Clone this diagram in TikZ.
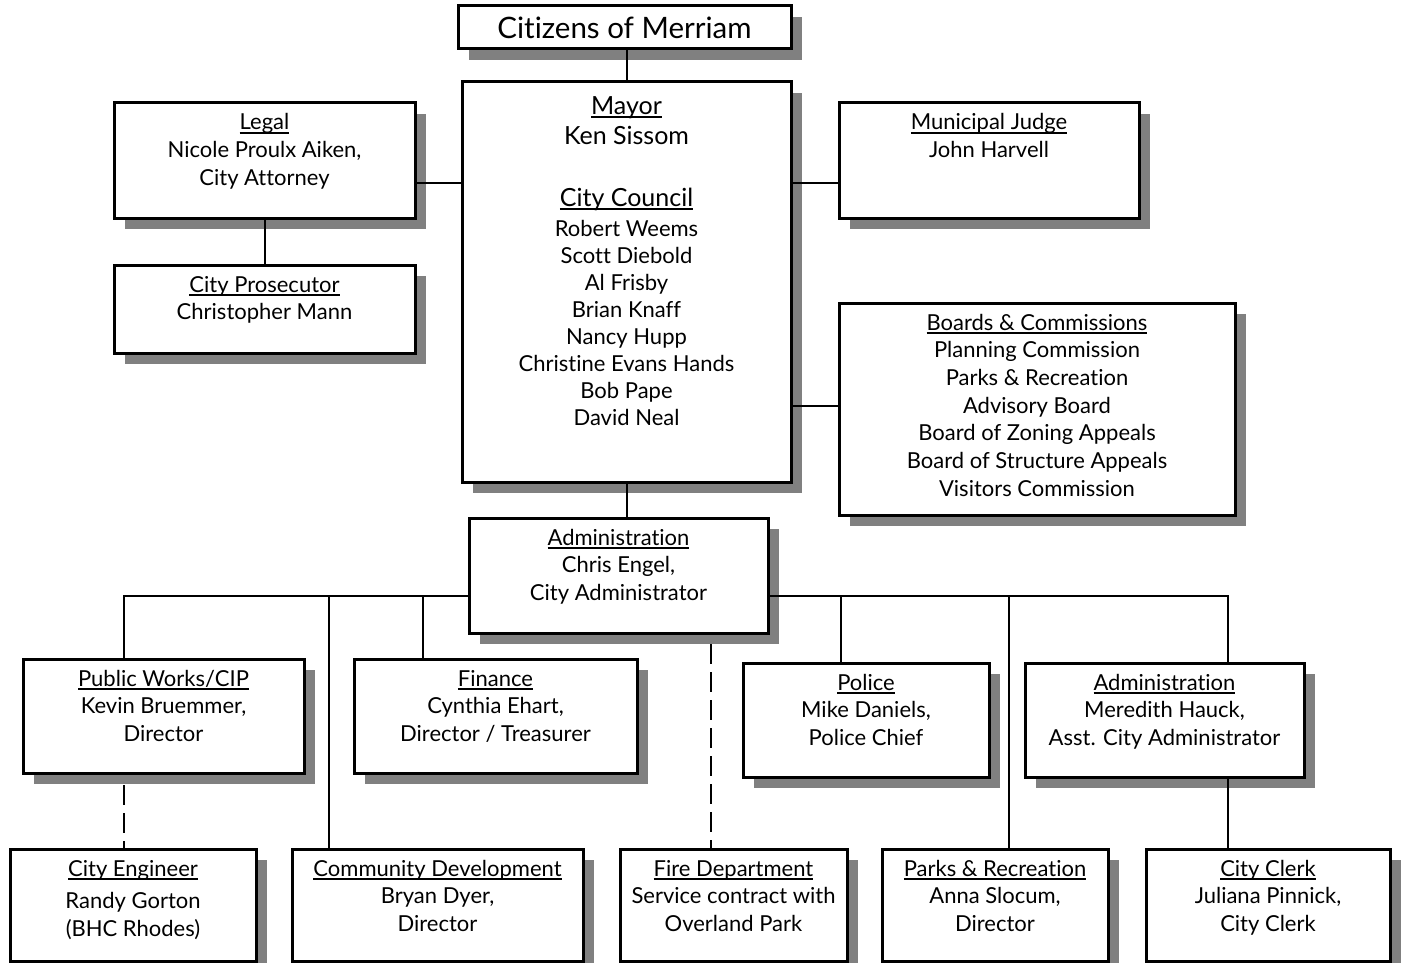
\documentclass[tikz,border=0pt]{standalone}
\usepackage{fontspec}
\setmainfont{Lato}[Ligatures=NoCommon]
\usetikzlibrary{positioning,shadows}
\definecolor{shade}{HTML}{808080}
\newsavebox{\headbox}
\newcommand{\orghead}[1]{\leavevmode\sbox{\headbox}{#1}\rlap{\rule[-3.5pt]{\wd\headbox}{1.8pt}}\usebox{\headbox}}
\newcommand{\orgcell}[3]{\parbox[c][#2][t]{#1}{\centering\rule{0pt}{27pt}#3}}
\tikzset{
  office/.style={draw, line width=3pt, fill=white, inner sep=0pt, font=\fontsize{22}{27.7}\selectfont,
    drop shadow={shadow xshift=11pt, shadow yshift=-11pt, fill=shade, opacity=1}},
  link/.style={line width=2pt},
  lease/.style={line width=2pt, dash pattern=on 20pt off 8pt}
}

\begin{document}
\begin{tikzpicture}[x=1pt, y=-1pt]
\useasboundingbox (0,0) rectangle (1402,963);
% top
\node[office, font=\fontsize{29.5}{32}\selectfont, minimum width=333pt, minimum height=43pt] (citizens) at (624.5,27.5) {Citizens of Merriam};
\node[office] (mayor) at (626.5,282) {\orgcell{329pt}{400pt}{\rule{0pt}{32pt}{\fontsize{25}{27}\selectfont\orghead{Mayor}\\[3.5pt]Ken Sissom\\[34.5pt]\orghead{City Council}}\\[2.5pt]{\fontsize{22}{27}\selectfont Robert Weems\\Scott Diebold\\Al Frisby\\Brian Knaff\\Nancy Hupp\\Christine Evans Hands\\Bob Pape\\David Neal}}};
\node[office] (legal) at (264.5,160.5) {\orgcell{301pt}{115pt}{\orghead{Legal}\\Nicole Proulx Aiken,\\City Attorney}};
\node[office, below=44pt of legal] (prosecutor) {\orgcell{301pt}{88pt}{\orghead{City Prosecutor}\\Christopher Mann}};
\node[office] (judge) at (989,160.5) {\orgcell{300pt}{115pt}{\orghead{Municipal Judge}\\John Harvell}};
\node[office] (boards) at (1037,409) {\orgcell{396pt}{212pt}{\orghead{Boards \& Commissions}\\Planning Commission\\Parks \& Recreation\\Advisory Board\\Board of Zoning Appeals\\Board of Structure Appeals\\Visitors Commission}};
\node[office] (admin) at (618.5,575.5) {\orgcell{299pt}{115pt}{\orghead{Administration}\\Chris Engel,\\City Administrator}};
% departments
\node[office] (works) at (163.5,716) {\orgcell{281pt}{114pt}{\orghead{Public Works/CIP}\\Kevin Bruemmer,\\Director}};
\node[office] (finance) at (495.5,716) {\orgcell{283pt}{114pt}{\orghead{Finance}\\Cynthia Ehart,\\Director / Treasurer}};
\node[office] (police) at (866,720) {\orgcell{246pt}{114pt}{\orghead{Police}\\Mike Daniels,\\Police Chief}};
\node[office] (assistant) at (1164.5,720) {\orgcell{279pt}{114pt}{\orghead{Administration}\\Meredith Hauck,\\Asst. City Administrator}};
\node[office] (engineer) at (133,905) {\orgcell{246pt}{112pt}{\orghead{City Engineer}\\[5pt]Randy Gorton\\(BHC Rhodes)}};
\node[office] (development) at (437.5,905) {\orgcell{291pt}{112pt}{\orghead{Community Development}\\Bryan Dyer,\\Director}};
\node[office] (fire) at (733.5,905) {\orgcell{227pt}{112pt}{\orghead{Fire Department}\\Service contract with\\Overland Park}};
\node[office] (parks) at (995,905) {\orgcell{226pt}{112pt}{\orghead{Parks \& Recreation}\\Anna Slocum,\\Director}};
\node[office] (clerk) at (1268,905) {\orgcell{244pt}{112pt}{\orghead{City Clerk}\\Juliana Pinnick,\\City Clerk}};
% taps
\coordinate (row1) at (0,183);
\coordinate (row2) at (0,406);
\coordinate (dropWorks) at (124,596);
\coordinate (dropDev) at (329,596);
\coordinate (dropFin) at (423,596);
\coordinate (dropPol) at (841,596);
\coordinate (dropPark) at (1009,596);
\coordinate (dropAsst) at (1228,596);
\coordinate (dropFire) at (711,644);
\coordinate (dropEng) at (124,785);
\draw[link] (mayor.north) -- (mayor.north |- citizens.south);
\draw[link] (legal.east |- row1) -- (mayor.west |- row1);
\draw[link] (mayor.east |- row1) -- (judge.west |- row1);
\draw[link] (mayor.east |- row2) -- (boards.west |- row2);
\draw[link] (legal) -- (prosecutor);
\draw[link] (mayor.south) -- (mayor.south |- admin.north);
\draw[link] (admin.west |- dropWorks) -- (dropWorks) -- (dropWorks |- works.north);
\draw[link] (admin.east |- dropAsst) -- (dropAsst) -- (dropAsst |- assistant.north);
\draw[link] (dropDev) -- (dropDev |- development.north);
\draw[link] (dropFin) -- (dropFin |- finance.north);
\draw[link] (dropPol) -- (dropPol |- police.north);
\draw[link] (dropPark) -- (dropPark |- parks.north);
\draw[link] (dropAsst |- assistant.south) -- (dropAsst |- clerk.north);
\draw[lease] (dropEng) -- (dropEng |- engineer.north);
\draw[lease] (dropFire) -- (dropFire |- fire.north);
\end{tikzpicture}
\end{document}
